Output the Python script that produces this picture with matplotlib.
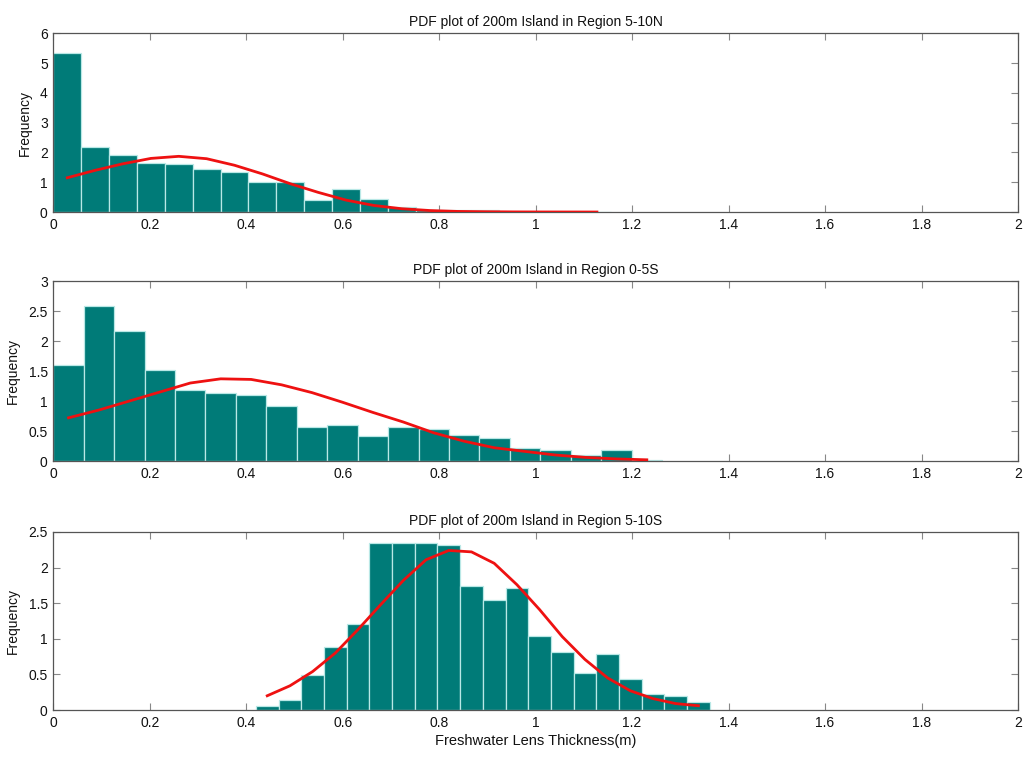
import numpy as np
import matplotlib
matplotlib.use("Agg")
import matplotlib.pyplot as plt

plt.rcParams['font.family'] = ['Liberation Sans', 'DejaVu Sans']

# Histogram (density) heights per bin, 20 bins each
freq_5_10N = [5.35, 2.19, 1.90, 1.66, 1.60, 1.43, 1.35, 1.00, 1.00, 0.42,
              0.76, 0.43, 0.16, 0.08, 0.07, 0.07, 0.0, 0.0, 0.0, 0.01]
fit_5_10N = [1.15, 1.40, 1.62, 1.80, 1.87, 1.79, 1.57, 1.28, 0.95, 0.66,
             0.40, 0.22, 0.11, 0.05, 0.02, 0.01, 0.004, 0.002, 0.001, 0.0]
range_5_10N = (0.0, 1.156)

freq_0_5S = [1.60, 2.59, 2.16, 1.52, 1.19, 1.14, 1.10, 0.92, 0.57, 0.60,
             0.42, 0.57, 0.53, 0.44, 0.39, 0.21, 0.19, 0.094, 0.19, 0.01]
fit_0_5S = [0.72, 0.85, 1.00, 1.15, 1.30, 1.37, 1.36, 1.27, 1.14, 0.98,
            0.81, 0.65, 0.47, 0.33, 0.22, 0.16, 0.10, 0.06, 0.035, 0.02]
range_0_5S = (0.0, 1.262)

freq_5_10S = [0.05, 0.14, 0.49, 0.89, 1.21, 2.35, 2.35, 2.35, 2.32, 1.74,
              1.54, 1.71, 1.04, 0.81, 0.52, 0.78, 0.43, 0.23, 0.20, 0.11]
fit_5_10S = [0.20, 0.34, 0.54, 0.80, 1.13, 1.48, 1.82, 2.11, 2.24, 2.22,
             2.06, 1.76, 1.41, 1.03, 0.71, 0.45, 0.27, 0.16, 0.09, 0.06]
range_5_10S = (0.42, 1.361)

titles = ["PDF plot of 200m Island in Region 5-10N",
          "PDF plot of 200m Island in Region 0-5S",
          "PDF plot of 200m Island in Region 5-10S"]
y_limits = [6, 3, 2.5]
y_steps = [1, 0.5, 0.5]
x_ticks = [0, 0.2, 0.4, 0.6, 0.8, 1, 1.2, 1.4, 1.6, 1.8, 2]
x_tick_labels = ["0", "0.2", "0.4", "0.6", "0.8", "1", "1.2", "1.4", "1.6", "1.8", "2"]

panels = [(freq_5_10N, fit_5_10N, range_5_10N),
          (freq_0_5S, fit_0_5S, range_0_5S),
          (freq_5_10S, fit_5_10S, range_5_10S)]

fig = plt.figure(figsize=(10.29, 7.61), dpi=100)
boxes = [[0.0518, 0.7214, 0.9375, 0.2348],
         [0.0518, 0.3942, 0.9375, 0.2365],
         [0.0518, 0.0670, 0.9375, 0.2340]]

bar_color = "#007b78"
edge_color = "#b9e8e6"
spine_color = "#555555"

for i, ((freq, fit, (lo, hi)), box) in enumerate(zip(panels, boxes)):
    ax = fig.add_axes(box)
    edges = np.linspace(lo, hi, len(freq) + 1)
    width = edges[1] - edges[0]
    centers = edges[:-1] + width / 2
    ax.bar(edges[:-1], freq, width=width, align="edge",
           color=bar_color, edgecolor=edge_color, linewidth=0.9, zorder=2)
    ax.plot(centers, fit, color="#ee1111", linewidth=2.0, zorder=3)

    ax.set_xlim(0, 2)
    ax.set_ylim(0, y_limits[i])
    ax.set_xticks(x_ticks)
    ax.set_xticklabels(x_tick_labels)
    yt = np.arange(0, y_limits[i] + 1e-9, y_steps[i])
    ax.set_yticks(yt)
    ax.set_yticklabels([f"{v:g}" for v in yt])
    ax.tick_params(direction="in", length=5, width=0.8, color="#888888",
                   labelsize=10, top=True, right=True, pad=4,
                   labelcolor="#111111")
    for s in ax.spines.values():
        s.set_color(spine_color)
        s.set_linewidth(0.9)
    ax.set_title(titles[i], fontsize=10, pad=5, color="#111111")
    ax.set_ylabel("Frequency", fontsize=10, labelpad=6, color="#111111")

ax.set_xlabel("Freshwater Lens Thickness(m)", fontsize=10.5, labelpad=3,
              color="#111111")

fig.savefig("out.png", dpi=100)
